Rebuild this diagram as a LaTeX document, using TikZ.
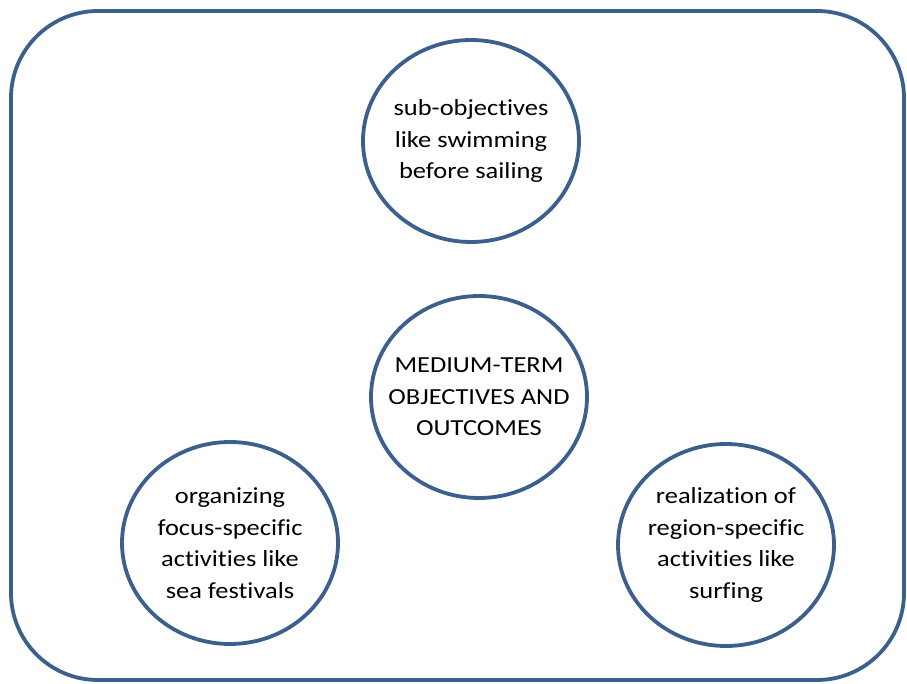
\documentclass[tikz,border=0pt]{standalone}
\usepackage{fontspec}
\setmainfont{Carlito}[FakeStretch=1.15, Ligatures=NoCommon]
\usetikzlibrary{shapes.geometric}

\definecolor{ringblue}{RGB}{60,96,142}

\begin{document}
\begin{tikzpicture}[
    x=1pt, y=-1pt,
    % --- Node styles ---
    frame/.style={draw=ringblue, line width=3.8pt, rounded corners=87pt},
    goal/.style={draw=ringblue, line width=3.8pt, ellipse, fill=white,
                 minimum width=216pt, minimum height=202pt, inner sep=-20pt,
                 align=center, font=\fontsize{23}{31.5}\selectfont},
]
\useasboundingbox (0,0) rectangle (907,684);

% === Outer frame ===
\draw[frame] (11,11) rectangle (904,680);

% === Objectives ===
\node[goal] (sub)    at (471,141) {sub-objectives\\like swimming\\before sailing};
\node[goal] (medium) at (479,397) {MEDIUM-TERM\\OBJECTIVES AND\\OUTCOMES};
\node[goal] (focus)  at (230,543) {organizing\\focus-specific\\activities like\\sea festivals};
\node[goal] (region) at (726,545) {realization of\\region-specific\\activities like\\surfing};

\end{tikzpicture}
\end{document}
